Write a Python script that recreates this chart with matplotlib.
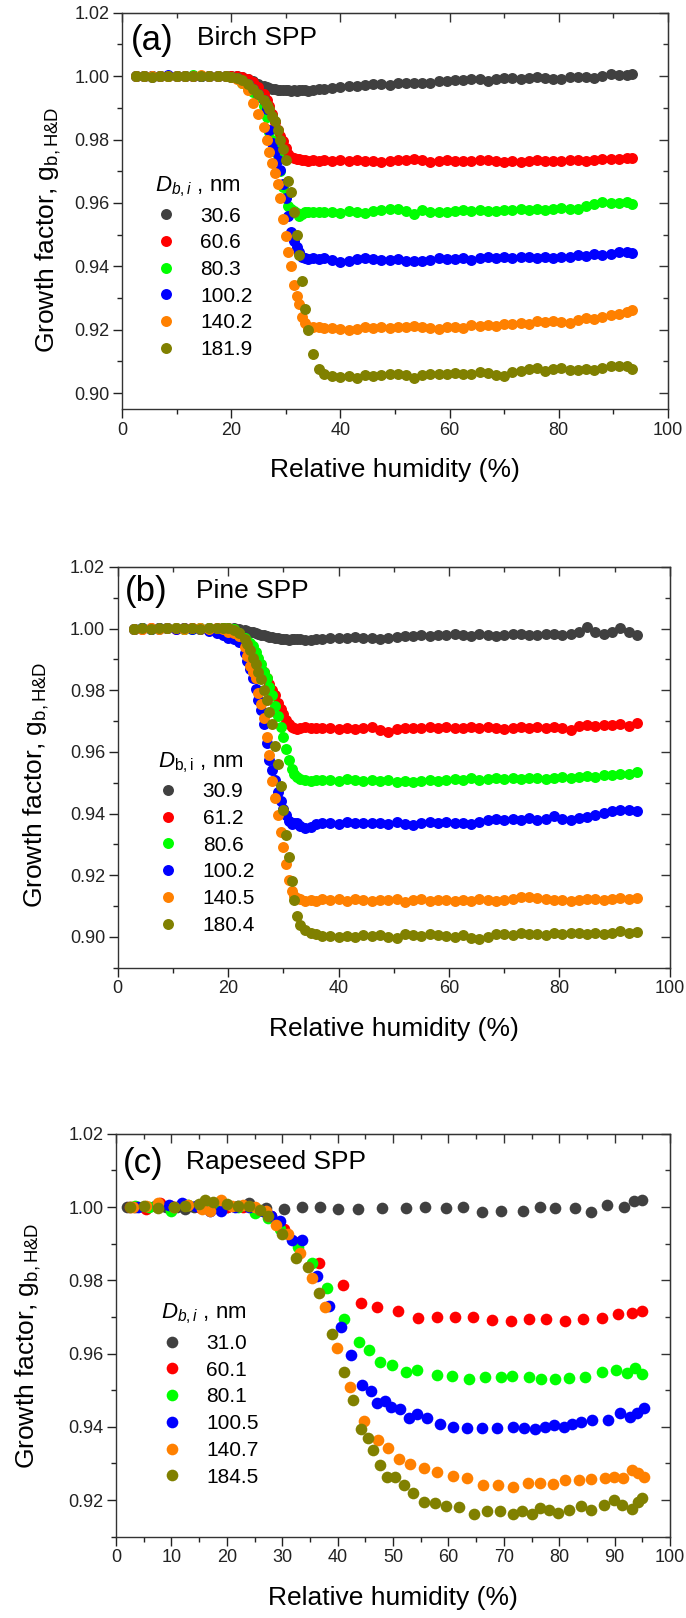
import matplotlib
matplotlib.use('Agg')
import matplotlib.pyplot as plt
from matplotlib.ticker import MultipleLocator, FormatStrFormatter

plt.rcParams['font.family'] = ['Liberation Sans', 'DejaVu Sans']
plt.rcParams['mathtext.fontset'] = 'custom'
plt.rcParams['mathtext.rm'] = 'Liberation Sans'
plt.rcParams['mathtext.it'] = 'Liberation Sans:italic'
plt.rcParams['mathtext.bf'] = 'Liberation Sans:bold'

colors = ['#404040', '#ff0000', '#00ff00', '#0000ff', '#ff8000', '#808000']

# ---------------- panel (a) Birch SPP ----------------
labels_a = ['30.6', '60.6', '80.3', '100.2', '140.2', '181.9']
rh_a = [2.5, 4, 5.5, 7, 8.5, 10, 11.5, 13, 14.5, 16, 17.5, 19,
        20, 21, 22, 23, 24, 25, 26, 26.5, 27, 27.5, 28, 28.5, 29, 29.5, 30, 30.5,
        31, 31.5, 32, 32.5, 33, 33.5, 34, 35, 36, 37,
        38.5, 40, 41.5, 43, 44.5, 46, 47.5, 49, 50.5, 52, 53.5, 55, 56.5, 58, 59.5,
        61, 62.5, 64, 65.5, 67, 68.5, 70, 71.5, 73, 74.5, 76, 77.5, 79, 80.5, 82,
        83.5, 85, 86.5, 88, 89.5, 91, 92.5, 93.5]
gf_a_306 = [1.0000, 1.0002, 0.9998, 1.0001, 0.9999, 1.0000, 1.0001, 1.0002, 1.0000, 1.0001, 1.0000, 1.0002,
            1.0001, 1.0000, 0.9998, 0.9992, 0.9985, 0.9975, 0.9968, 0.9965, 0.9963, 0.9960, 0.9958, 0.9957, 0.9957,
            0.9956, 0.9955, 0.9955, 0.9954, 0.9955, 0.9953, 0.9955, 0.9957, 0.9955, 0.9953, 0.9956, 0.9958, 0.9960,
            0.9962, 0.9965, 0.9968, 0.9970, 0.9972, 0.9975, 0.9976, 0.9972, 0.9977, 0.9979, 0.9978, 0.9980, 0.9978,
            0.9985, 0.9986, 0.9987, 0.9988, 0.9992, 0.9990, 0.9985, 0.9990, 0.9993, 0.9995, 0.9992, 0.9995, 0.9997,
            0.9994, 0.9992, 0.9990, 0.9997, 0.9998, 0.9996, 0.9995, 1.0002, 1.0007, 1.0004, 1.0005, 1.0007]
gf_a_606 = [1.0000, 0.9999, 1.0001, 1.0000, 0.9999, 1.0001, 1.0002, 1.0000, 1.0001, 1.0001, 1.0002, 1.0001,
            1.0001, 1.0000, 0.9996, 0.9990, 0.9982, 0.9965, 0.9945, 0.9925, 0.9905, 0.9880, 0.9855, 0.9830, 0.9810,
            0.9795, 0.9775, 0.9755, 0.9745, 0.9742, 0.9740, 0.9738, 0.9736, 0.9737, 0.9734, 0.9737, 0.9733, 0.9735,
            0.9733, 0.9735, 0.9732, 0.9736, 0.9731, 0.9733, 0.9730, 0.9732, 0.9735, 0.9736, 0.9738, 0.9737, 0.9730,
            0.9733, 0.9736, 0.9734, 0.9731, 0.9733, 0.9735, 0.9737, 0.9733, 0.9728, 0.9733, 0.9730, 0.9734, 0.9736,
            0.9732, 0.9734, 0.9733, 0.9735, 0.9737, 0.9733, 0.9737, 0.9738, 0.9740, 0.9739, 0.9741, 0.9742]
gf_a_803 = [1.0000, 1.0001, 0.9999, 1.0000, 1.0001, 0.9999, 1.0001, 1.0003, 1.0001, 1.0002, 0.9999, 1.0000,
            0.9998, 0.9993, 0.9978, 0.9962, 0.9950, 0.9935, 0.9905, 0.9870, 0.9823, 0.9800, 0.9775, 0.9750, 0.9700,
            0.9650, 0.9620, 0.9590, 0.9580, 0.9575, 0.9568, 0.9560, 0.9565, 0.9570, 0.9572, 0.9570, 0.9573, 0.9571,
            0.9572, 0.9568, 0.9574, 0.9571, 0.9567, 0.9575, 0.9578, 0.9582, 0.9580, 0.9574, 0.9566, 0.9577, 0.9572,
            0.9570, 0.9573, 0.9575, 0.9577, 0.9576, 0.9578, 0.9575, 0.9576, 0.9577, 0.9578, 0.9580, 0.9579, 0.9581,
            0.9579, 0.9582, 0.9583, 0.9580, 0.9582, 0.9592, 0.9598, 0.9602, 0.9601, 0.9599, 0.9603, 0.9598]
gf_a_1002 = [1.0000, 1.0001, 1.0000, 0.9999, 1.0003, 1.0000, 1.0001, 1.0000, 1.0001, 1.0000, 0.9999, 1.0000,
             0.9998, 0.9995, 0.9985, 0.9975, 0.9960, 0.9945, 0.9925, 0.9895, 0.9830, 0.9790, 0.9765, 0.9735, 0.9705,
             0.9660, 0.9615, 0.9560, 0.9510, 0.9480, 0.9462, 0.9445, 0.9430, 0.9425, 0.9423, 0.9426, 0.9424, 0.9427,
             0.9420, 0.9415, 0.9418, 0.9422, 0.9425, 0.9423, 0.9420, 0.9421, 0.9424, 0.9418, 0.9416, 0.9418, 0.9421,
             0.9425, 0.9422, 0.9424, 0.9428, 0.9420, 0.9426, 0.9429, 0.9427, 0.9430, 0.9428, 0.9431, 0.9429, 0.9426,
             0.9430, 0.9428, 0.9431, 0.9429, 0.9436, 0.9433, 0.9438, 0.9435, 0.9440, 0.9445, 0.9446, 0.9443]
gf_a_1402 = [1.0000, 1.0001, 0.9999, 1.0000, 1.0001, 1.0000, 1.0002, 1.0001, 1.0003, 1.0000, 1.0002, 1.0001,
             0.9997, 0.9992, 0.9980, 0.9955, 0.9915, 0.9880, 0.9840, 0.9800, 0.9760, 0.9725, 0.9695, 0.9660, 0.9615,
             0.9550, 0.9495, 0.9445, 0.9400, 0.9340, 0.9305, 0.9282, 0.9240, 0.9220, 0.9210, 0.9208, 0.9210, 0.9205,
             0.9207, 0.9204, 0.9200, 0.9203, 0.9208, 0.9206, 0.9210, 0.9207, 0.9209, 0.9208, 0.9211, 0.9209, 0.9207,
             0.9202, 0.9208, 0.9210, 0.9206, 0.9215, 0.9212, 0.9216, 0.9213, 0.9219, 0.9217, 0.9221, 0.9218, 0.9228,
             0.9225, 0.9228, 0.9226, 0.9222, 0.9230, 0.9236, 0.9234, 0.9240, 0.9246, 0.9250, 0.9255, 0.9262]
gf_a_1819 = [1.0000, 1.0002, 0.9998, 1.0001, 1.0000, 1.0001, 1.0000, 1.0002, 1.0002, 1.0000, 1.0001, 0.9999,
             0.9998, 0.9994, 0.9988, 0.9975, 0.9960, 0.9945, 0.9925, 0.9910, 0.9895, 0.9875, 0.9860, 0.9830, 0.9800,
             0.9770, 0.9735, 0.9670, 0.9635, 0.9570, 0.9500, 0.9436, 0.9355, 0.9265, 0.9200, 0.9125, 0.9075, 0.9060,
             0.9053, 0.9050, 0.9055, 0.9048, 0.9056, 0.9054, 0.9058, 0.9060, 0.9059, 0.9057, 0.9048, 0.9057, 0.9061,
             0.9062, 0.9060, 0.9063, 0.9062, 0.9060, 0.9067, 0.9064, 0.9056, 0.9055, 0.9066, 0.9070, 0.9075, 0.9079,
             0.9070, 0.9075, 0.9078, 0.9074, 0.9072, 0.9075, 0.9073, 0.9078, 0.9085, 0.9087, 0.9085, 0.9077]

# ---------------- panel (b) Pine SPP ----------------
labels_b = ['30.9', '61.2', '80.6', '100.2', '140.5', '180.4']
rh_b = [3, 4.5, 6, 7.5, 9, 10.5, 12, 13.5, 15, 16.5, 18, 19,
        20, 21, 22, 23, 23.5, 24, 24.5, 25, 25.5, 26, 26.5, 27, 27.5, 28, 28.5, 29, 29.5,
        30, 30.5, 31, 31.5, 32, 32.5, 33, 34, 35, 36, 37,
        38.5, 40, 41.5, 43, 44.5, 46, 47.5, 49, 50.5, 52, 53.5, 55, 56.5, 58, 59.5,
        61, 62.5, 64, 65.5, 67, 68.5, 70, 71.5, 73, 74.5, 76, 77.5, 79, 80.5, 82,
        83.5, 85, 86.5, 88, 89.5, 91, 92.5, 94]
gf_b_309 = [1.0000, 1.0001, 1.0000, 0.9999, 1.0001, 1.0002, 1.0000, 1.0001, 1.0002, 1.0001, 1.0000, 1.0001,
            1.0000, 1.0001, 1.0000, 0.9995, 0.9993, 0.9990, 0.9988, 0.9985, 0.9983, 0.9980, 0.9978, 0.9975, 0.9974,
            0.9972, 0.9970, 0.9968, 0.9967, 0.9965, 0.9966, 0.9964, 0.9966, 0.9965, 0.9967, 0.9966, 0.9964, 0.9962,
            0.9965, 0.9967,
            0.9968, 0.9970, 0.9968, 0.9972, 0.9970, 0.9969, 0.9966, 0.9970, 0.9974, 0.9976, 0.9975, 0.9978, 0.9977,
            0.9980, 0.9978, 0.9981, 0.9979, 0.9977, 0.9982, 0.9980, 0.9976, 0.9979, 0.9981, 0.9983, 0.9980, 0.9978,
            0.9981, 0.9983, 0.9980, 0.9984, 0.9988, 1.0005, 0.9990, 0.9984, 0.9990, 1.0002, 0.9988, 0.9978]
gf_b_612 = [1.0000, 0.9999, 1.0001, 1.0002, 1.0001, 1.0000, 1.0002, 1.0001, 1.0000, 1.0001, 1.0002, 1.0001,
            1.0001, 1.0000, 0.9985, 0.9960, 0.9945, 0.9925, 0.9905, 0.9895, 0.9882, 0.9870, 0.9858, 0.9840, 0.9820,
            0.9800, 0.9785, 0.9760, 0.9740, 0.9722, 0.9705, 0.9690, 0.9682, 0.9678, 0.9675, 0.9677, 0.9680, 0.9678,
            0.9676, 0.9679,
            0.9676, 0.9673, 0.9678, 0.9675, 0.9677, 0.9680, 0.9672, 0.9666, 0.9675, 0.9677, 0.9679, 0.9676, 0.9680,
            0.9678, 0.9681, 0.9677, 0.9679, 0.9682, 0.9678, 0.9680, 0.9677, 0.9675, 0.9679, 0.9681, 0.9677, 0.9680,
            0.9676, 0.9682, 0.9679, 0.9672, 0.9683, 0.9686, 0.9684, 0.9688, 0.9686, 0.9690, 0.9685, 0.9695]
gf_b_806 = [1.0000, 1.0001, 1.0000, 1.0001, 1.0002, 1.0001, 1.0000, 1.0000, 1.0002, 1.0001, 1.0000, 1.0001,
            1.0002, 0.9998, 0.9985, 0.9970, 0.9960, 0.9952, 0.9945, 0.9925, 0.9905, 0.9885, 0.9860, 0.9840, 0.9810,
            0.9785, 0.9750, 0.9715, 0.9680, 0.9650, 0.9610, 0.9575, 0.9545, 0.9530, 0.9518, 0.9512, 0.9508, 0.9506,
            0.9510, 0.9508,
            0.9510, 0.9507, 0.9511, 0.9509, 0.9505, 0.9508, 0.9506, 0.9510, 0.9504, 0.9507, 0.9502, 0.9506, 0.9509,
            0.9505, 0.9510, 0.9512, 0.9508, 0.9514, 0.9509, 0.9512, 0.9515, 0.9511, 0.9516, 0.9513, 0.9517, 0.9514,
            0.9512, 0.9516, 0.9519, 0.9515, 0.9518, 0.9522, 0.9520, 0.9524, 0.9526, 0.9528, 0.9530, 0.9535]
gf_b_1002 = [1.0000, 1.0001, 1.0000, 1.0001, 1.0002, 1.0000, 1.0001, 0.9999, 1.0000, 0.9993, 0.9985, 0.9980,
             0.9970, 0.9965, 0.9955, 0.9920, 0.9895, 0.9870, 0.9840, 0.9805, 0.9770, 0.9735, 0.9690, 0.9630, 0.9575,
             0.9540, 0.9510, 0.9470, 0.9440, 0.9415, 0.9395, 0.9375, 0.9365, 0.9370, 0.9368, 0.9360, 0.9352, 0.9358,
             0.9365, 0.9368,
             0.9370, 0.9366, 0.9372, 0.9369, 0.9371, 0.9368, 0.9370, 0.9366, 0.9372, 0.9365, 0.9362, 0.9368, 0.9372,
             0.9368, 0.9373, 0.9370, 0.9368, 0.9365, 0.9372, 0.9380, 0.9382, 0.9378, 0.9384, 0.9380, 0.9386, 0.9378,
             0.9383, 0.9392, 0.9384, 0.9380, 0.9385, 0.9390, 0.9396, 0.9402, 0.9408, 0.9412, 0.9410, 0.9407]
gf_b_1405 = [1.0000, 0.9999, 1.0001, 1.0000, 1.0002, 1.0001, 1.0000, 1.0001, 1.0002, 1.0000, 1.0001, 0.9998,
             0.9990, 0.9985, 0.9975, 0.9940, 0.9910, 0.9878, 0.9860, 0.9840, 0.9790, 0.9755, 0.9710, 0.9650, 0.9590,
             0.9505, 0.9450, 0.9395, 0.9340, 0.9290, 0.9235, 0.9185, 0.9150, 0.9132, 0.9125, 0.9122, 0.9118, 0.9120,
             0.9116, 0.9122,
             0.9120, 0.9124, 0.9118, 0.9122, 0.9120, 0.9117, 0.9121, 0.9119, 0.9123, 0.9114, 0.9120, 0.9122, 0.9118,
             0.9121, 0.9119, 0.9116, 0.9120, 0.9118, 0.9122, 0.9120, 0.9116, 0.9121, 0.9124, 0.9130, 0.9128, 0.9126,
             0.9123, 0.9119, 0.9121, 0.9118, 0.9120, 0.9122, 0.9124, 0.9121, 0.9123, 0.9125, 0.9122, 0.9126]
gf_b_1804 = [1.0000, 1.0001, 1.0000, 1.0002, 1.0001, 1.0002, 1.0001, 1.0002, 1.0000, 1.0003, 1.0002, 1.0003,
             1.0001, 0.9995, 0.9985, 0.9965, 0.9950, 0.9930, 0.9905, 0.9885, 0.9860, 0.9835, 0.9800, 0.9770, 0.9730,
             0.9690, 0.9620, 0.9560, 0.9490, 0.9410, 0.9330, 0.9260, 0.9180, 0.9120, 0.9067, 0.9040, 0.9022, 0.9012,
             0.9008, 0.9004,
             0.9002, 0.9000, 0.9004, 0.9001, 0.9006, 0.9003, 0.9007, 0.9001, 0.8998, 0.9008, 0.9006, 0.9003, 0.9010,
             0.9006, 0.9004, 0.9001, 0.9005, 0.8997, 0.8993, 0.9001, 0.9008, 0.9010, 0.9007, 0.9012, 0.9009, 0.9011,
             0.9007, 0.9012, 0.9010, 0.9012, 0.9014, 0.9010, 0.9012, 0.9008, 0.9012, 0.9018, 0.9013, 0.9015]

# ---------------- panel (c) Rapeseed SPP ----------------
labels_c = ['31.0', '60.1', '80.1', '100.5', '140.7', '184.5']
rh_c_310 = [2, 3.5, 5, 7, 9, 11, 12.5, 14, 16, 18, 20, 22, 24, 27, 30.3, 33.6, 36.9, 40.1, 43.6, 48,
            52.4, 55.8, 59.5, 62.7, 66, 69.5, 73.4, 76.6, 79.3, 82.8, 85.8, 88.6, 91.7, 93.5, 95]
gf_c_310 = [1.0000, 1.0000, 1.0001, 1.0003, 0.9999, 1.0000, 0.9994, 1.0000, 1.0001, 1.0001,
            1.0000, 1.0003, 1.0010, 0.9998, 0.9995, 1.0000, 1.0000, 0.9994, 0.9994, 0.9996,
            0.9996, 1.0000, 0.9998, 1.0000, 0.9986, 0.9990, 0.9988, 1.0001, 0.9997, 0.9998,
            0.9986, 1.0005, 1.0000, 1.0017, 1.0019]
rh_c_601 = [2.5, 5.5, 8, 10, 12.5, 15, 17.5, 20, 23, 25.5, 28, 30.4, 33, 36.7, 41, 44.3, 47.2, 50.9, 54.6, 57.9,
            61.2, 64.5, 67.9, 71.3, 74.6, 77.6, 81, 84.3, 87.7, 90.6, 93.2, 95]
gf_c_601 = [1.0000, 0.9994, 1.0010, 1.0002, 1.0005, 1.0000, 1.0001, 1.0000, 1.0000, 0.9990,
            0.9975, 0.9941, 0.9905, 0.9846, 0.9786, 0.9739, 0.9727, 0.9717, 0.9696, 0.9700,
            0.9699, 0.9699, 0.9691, 0.9689, 0.9694, 0.9693, 0.9690, 0.9693, 0.9697, 0.9709,
            0.9712, 0.9717]
rh_c_801 = [3.5, 6, 10, 13, 16, 19, 22, 25, 27.5, 29.6, 32.8, 35.3, 38.1, 41.2, 43.8, 45.6, 47.6, 49.9,
            52.4, 54.4, 57.9, 60.7, 63.8, 66.6, 69.5, 71.5, 74.6, 76.8, 79.3, 81.7, 84.7, 87.7, 90.2,
            92.3, 93.7, 95]
gf_c_801 = [1.0002, 1.0000, 0.9990, 1.0005, 1.0008, 1.0002, 1.0000, 0.9985, 0.9970, 0.9941,
            0.9891, 0.9846, 0.9780, 0.9694, 0.9631, 0.9610, 0.9578, 0.9570, 0.9550, 0.9555,
            0.9541, 0.9539, 0.9530, 0.9537, 0.9537, 0.9539, 0.9535, 0.9531, 0.9531, 0.9533,
            0.9535, 0.9550, 0.9555, 0.9548, 0.9561, 0.9543]
rh_c_1005 = [4, 7.5, 9.5, 12, 14.5, 17, 19, 21.5, 24, 26.5, 28, 29.6, 31.8, 33.6, 36.3, 38.4, 40.6, 42.5,
             44.4, 46.1, 47.2, 48.5, 49.7, 51.3, 52.8, 54.4, 56.2, 58.4, 60.8, 63.3, 66, 68.7, 71.7,
             73.7, 75.6, 77.4, 79, 80.9, 82.3, 83.9, 86, 88.8, 91, 92.8, 94.1, 95.3]
gf_c_1005 = [1.0000, 1.0003, 1.0006, 1.0010, 1.0004, 0.9990, 0.9988, 1.0000, 1.0000, 0.9990,
             0.9975, 0.9962, 0.9909, 0.9909, 0.9812, 0.9729, 0.9673, 0.9596, 0.9513, 0.9498,
             0.9464, 0.9470, 0.9453, 0.9450, 0.9425, 0.9435, 0.9425, 0.9407, 0.9399, 0.9398,
             0.9396, 0.9396, 0.9400, 0.9398, 0.9395, 0.9400, 0.9405, 0.9399, 0.9408, 0.9414,
             0.9419, 0.9419, 0.9439, 0.9428, 0.9439, 0.9452]
rh_c_1407 = [3, 5.5, 7.5, 10.5, 13, 15.5, 17, 19, 21, 23, 25, 27, 28.9, 31, 33.2, 35.3, 37.7, 39.9, 42.2,
             44.7, 47.3, 49.1, 51, 53.1, 55.6, 57.9, 60.8, 63.3, 66.2, 68.9, 71.7, 74.3, 76.6, 78.9,
             81.1, 83.5, 85.8, 88.2, 89.8, 91.5, 93.2, 94.2, 95.3]
gf_c_1407 = [1.0000, 1.0002, 1.0010, 1.0000, 1.0005, 0.9995, 0.9990, 1.0020, 1.0003, 1.0006,
             1.0000, 0.9990, 0.9950, 0.9925, 0.9875, 0.9805, 0.9728, 0.9614, 0.9510, 0.9416,
             0.9363, 0.9343, 0.9312, 0.9298, 0.9289, 0.9278, 0.9266, 0.9260, 0.9240, 0.9242,
             0.9237, 0.9246, 0.9248, 0.9243, 0.9254, 0.9254, 0.9257, 0.9260, 0.9262, 0.9261,
             0.9283, 0.9275, 0.9264]
rh_c_1845 = [2.5, 5, 7.5, 10.5, 12.5, 15, 16, 17.5, 20, 22, 24, 26, 27.5, 30, 32.5, 34.6, 36.7, 38.9,
             41.2, 42.7, 44.3, 45.4, 46.4, 47.7, 48.9, 50.3, 51.9, 53.6, 55.6, 57.5, 59.5, 62, 64.6,
             67, 69.3, 71.7, 73.3, 75, 76.6, 78.1, 79.7, 81.7, 83.9, 85.8, 88.1, 89.8, 91.4, 93.1,
             94.3, 95]
gf_c_1845 = [1.0000, 1.0003, 0.9998, 1.0000, 1.0003, 1.0007, 1.0020, 1.0015, 1.0008, 1.0003,
             1.0002, 0.9993, 0.9975, 0.9927, 0.9861, 0.9837, 0.9764, 0.9653, 0.9549, 0.9473,
             0.9393, 0.9369, 0.9337, 0.9296, 0.9262, 0.9262, 0.9242, 0.9219, 0.9194, 0.9192,
             0.9185, 0.9181, 0.9163, 0.9169, 0.9169, 0.9163, 0.9169, 0.9163, 0.9178, 0.9172,
             0.9166, 0.9172, 0.9185, 0.9172, 0.9187, 0.9200, 0.9187, 0.9177, 0.9196, 0.9205]


def style_axes(ax, xmajor, xminor, ylim):
    ax.set_xlim(0, 100)
    ax.set_ylim(*ylim)
    ax.xaxis.set_major_locator(MultipleLocator(xmajor))
    ax.xaxis.set_minor_locator(MultipleLocator(xminor))
    ax.yaxis.set_major_locator(MultipleLocator(0.02))
    ax.yaxis.set_minor_locator(MultipleLocator(0.01))
    ax.yaxis.set_major_formatter(FormatStrFormatter('%.2f'))
    ax.tick_params(which='both', direction='out', labelsize=13, width=1, colors='#222222', pad=2.5)
    ax.tick_params(which='major', length=6.5)
    ax.tick_params(which='minor', length=3.5)
    for s in ax.spines.values():
        s.set_linewidth(1)
        s.set_color('#333333')
    # top / right ticks point inwards
    top = ax.secondary_xaxis('top')
    top.xaxis.set_major_locator(MultipleLocator(xmajor))
    top.xaxis.set_minor_locator(MultipleLocator(xminor))
    top.tick_params(which='both', direction='in', labeltop=False, width=1, colors='#333333')
    top.tick_params(which='major', length=6.5)
    top.tick_params(which='minor', length=3.5)
    right = ax.secondary_yaxis('right')
    right.yaxis.set_major_locator(MultipleLocator(0.02))
    right.yaxis.set_minor_locator(MultipleLocator(0.01))
    right.tick_params(which='both', direction='in', labelright=False, width=1, colors='#333333')
    right.tick_params(which='major', length=6.5)
    right.tick_params(which='minor', length=3.5)
    ax.set_xlabel('Relative humidity (%)', fontsize=19, labelpad=14)
    ax.set_ylabel(r'Growth factor, $\mathregular{g_{b,H&D}}$', fontsize=19)


def add_legend(ax, title, x, y):
    ax.legend(title=title, loc='upper left', bbox_to_anchor=(x, y),
              frameon=False, fontsize=15, title_fontsize=16, labelspacing=0.37,
              handlelength=1.0, handletextpad=1.15, borderpad=0, borderaxespad=0,
              alignment='left')


fig = plt.figure(figsize=(6.86, 16.18), dpi=100)
ax_a = fig.add_axes([0.1778, 0.7472, 0.7959, 0.2449])
ax_b = fig.add_axes([0.1714, 0.4019, 0.8052, 0.2477])
ax_c = fig.add_axes([0.1691, 0.0502, 0.8076, 0.2491])

# (a)
for y, c, lab in zip([gf_a_306, gf_a_606, gf_a_803, gf_a_1002, gf_a_1402, gf_a_1819], colors, labels_a):
    ax_a.plot(rh_a, y, 'o', color=c, ms=7.9, mew=0, label=lab)
style_axes(ax_a, 20, 10, (0.895, 1.02))
ax_a.yaxis.set_label_coords(-0.108, 0.452)
ax_a.text(0.016, 0.931, '(a)', transform=ax_a.transAxes, fontsize=25, va='center')
ax_a.text(0.137, 0.936, 'Birch SPP', transform=ax_a.transAxes, fontsize=19, va='center')
add_legend(ax_a, r'$D_{b,i}$ , nm', 0.061, 0.592)

# (b)
for y, c, lab in zip([gf_b_309, gf_b_612, gf_b_806, gf_b_1002, gf_b_1405, gf_b_1804], colors, labels_b):
    ax_b.plot(rh_b, y, 'o', color=c, ms=7.9, mew=0, label=lab)
style_axes(ax_b, 20, 10, (0.89, 1.02))
ax_b.yaxis.set_label_coords(-0.121, 0.456)
ax_b.text(0.014, 0.938, '(b)', transform=ax_b.transAxes, fontsize=25, va='center')
ax_b.text(0.142, 0.940, 'Pine SPP', transform=ax_b.transAxes, fontsize=19, va='center')
add_legend(ax_b, r'$D_{\mathregular{b,i}}$ , nm', 0.073, 0.543)

# (c)
series_c = [(rh_c_310, gf_c_310), (rh_c_601, gf_c_601), (rh_c_801, gf_c_801),
            (rh_c_1005, gf_c_1005), (rh_c_1407, gf_c_1407), (rh_c_1845, gf_c_1845)]
for (x, y), c, lab in zip(series_c, colors, labels_c):
    ax_c.plot(x, y, 'o', color=c, ms=8.4, mew=0, label=lab)
style_axes(ax_c, 10, 5, (0.91, 1.02))
ax_c.yaxis.set_label_coords(-0.131, 0.474)
ax_c.text(0.0125, 0.925, '(c)', transform=ax_c.transAxes, fontsize=25, va='center')
ax_c.text(0.127, 0.930, 'Rapeseed SPP', transform=ax_c.transAxes, fontsize=19, va='center')
add_legend(ax_c, r'$D_{b,i}$ , nm', 0.082, 0.583)

fig.savefig('out.png', dpi=100)
